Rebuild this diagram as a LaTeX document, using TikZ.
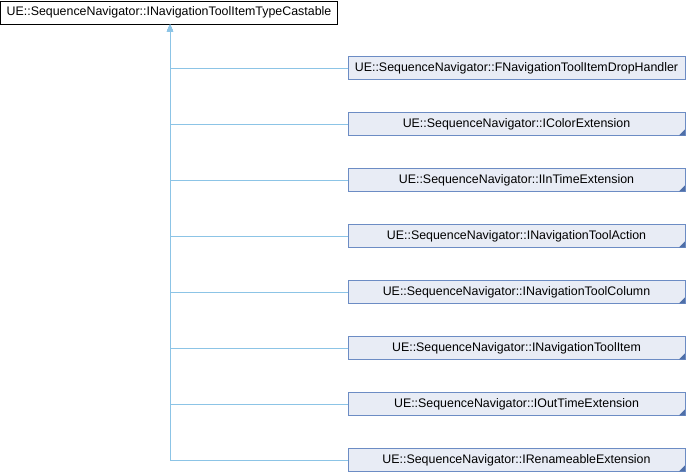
\documentclass[tikz,border=0pt]{standalone}
\usepackage{fontspec}
\setmainfont{Liberation Sans}
\usetikzlibrary{arrows.meta}
\definecolor{edgeblue}{HTML}{8CC4E6}
\definecolor{boxfill}{HTML}{E8ECF5}
\definecolor{boxline}{HTML}{6C8CC4}
\definecolor{cornerblue}{HTML}{4F6FA8}
\tikzset{
  base/.style={draw=black, fill=white, line width=0.9pt, minimum width=337pt, minimum height=23pt, inner sep=0pt, font=\fontsize{12.4}{14}\selectfont},
  child/.style={draw=boxline, fill=boxfill, line width=0.9pt, minimum width=337pt, minimum height=23pt, inner sep=0pt, font=\fontsize{12.4}{14}\selectfont},
  edge/.style={draw=edgeblue, line width=0.9pt, -{Triangle[length=7pt,width=6pt,fill=edgeblue]}},
  corner/.style={fill=cornerblue, draw=none}
}
\begin{document}
\begin{tikzpicture}[x=1pt,y=-1pt]
\useasboundingbox (0,0) rectangle (686,472);
\node[base] (top) at (169,12.5) {UE::SequenceNavigator::INavigationToolItemTypeCastable};
\node[child] (c1) at (516.5,68) {UE::SequenceNavigator::FNavigationToolItemDropHandler};
\node[child] (c2) at (516.5,124) {UE::SequenceNavigator::IColorExtension};
\node[child] (c3) at (516.5,180) {UE::SequenceNavigator::IInTimeExtension};
\node[child] (c4) at (516.5,236) {UE::SequenceNavigator::INavigationToolAction};
\node[child] (c5) at (516.5,292) {UE::SequenceNavigator::INavigationToolColumn};
\node[child] (c6) at (516.5,348) {UE::SequenceNavigator::INavigationToolItem};
\node[child] (c7) at (516.5,404) {UE::SequenceNavigator::IOutTimeExtension};
\node[child] (c8) at (516.5,460) {UE::SequenceNavigator::IRenameableExtension};
\foreach \n in {c2,c3,c4,c5,c6,c7,c8}{
  \fill[corner] ([xshift=-0.5pt,yshift=0.5pt]\n.south east) -- ++(0,-6) -- ++(-6,6) -- cycle;
}
\foreach \n in {c1,c2,c3,c4,c5,c6,c7,c8}{
  \draw[edge] (\n.west) -| ([xshift=1pt]top.south);
}
\end{tikzpicture}
\end{document}
